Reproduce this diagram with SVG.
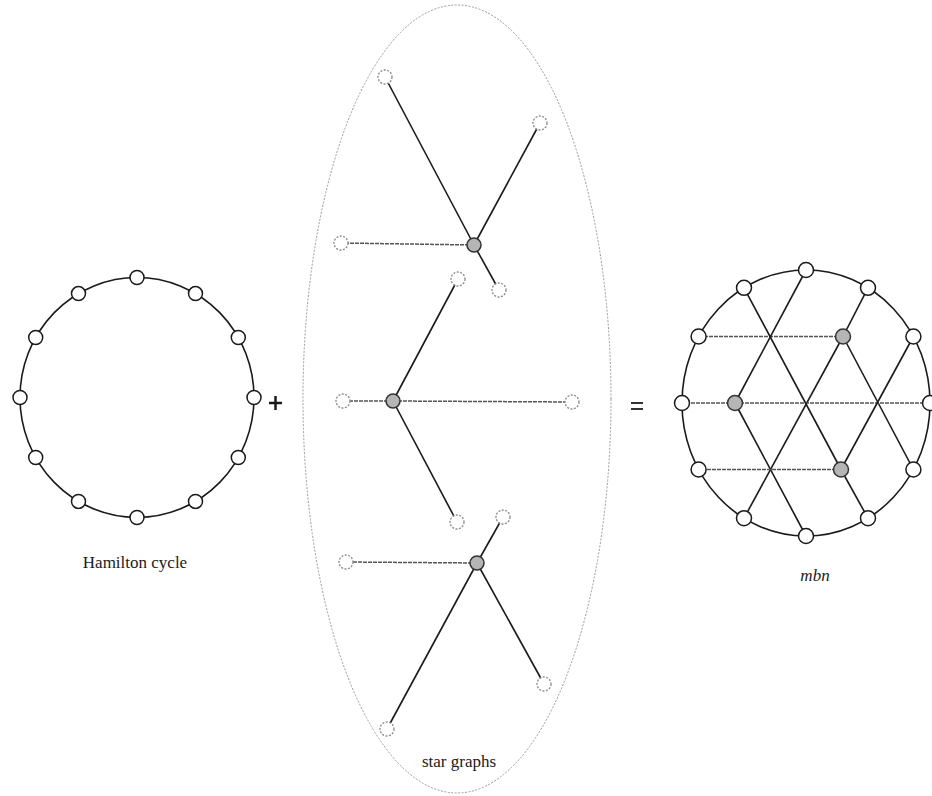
<svg xmlns="http://www.w3.org/2000/svg" width="932" height="796" viewBox="0 0 932 796">
<style>
.bg{fill:#fff}
.cyc{fill:none;stroke:#1a1a1a;stroke-width:1.6}
.e{stroke:#1a1a1a;stroke-width:1.6;fill:none}
.eh{stroke:#555;stroke-width:1.5;stroke-dasharray:4 1;fill:none}
.n{fill:#fff;stroke:#1a1a1a;stroke-width:1.5}
.g{fill:#b5b5b5;stroke:#333;stroke-width:1.5}
.l{fill:#fff;stroke:#8a8a8a;stroke-width:1.3;stroke-dasharray:2 1.5}
.ov{fill:none;stroke:#9a9a9a;stroke-width:1;stroke-dasharray:2 1.5}
.t{font-family:"Liberation Serif","Times New Roman",serif;font-size:17px;fill:#1a1a1a}
</style>
<rect class="bg" x="0" y="0" width="932" height="796"/>

<!-- Hamilton cycle -->
<g id="hamilton">
  <ellipse class="cyc" cx="137" cy="397.5" rx="117" ry="120"/>
  <g id="h-nodes">
    <circle class="n" cx="137" cy="277.5" r="7"/>
    <circle class="n" cx="195.5" cy="293.6" r="7"/>
    <circle class="n" cx="238.3" cy="337.5" r="7"/>
    <circle class="n" cx="254" cy="397.5" r="7"/>
    <circle class="n" cx="238.3" cy="457.5" r="7"/>
    <circle class="n" cx="195.5" cy="501.4" r="7"/>
    <circle class="n" cx="137" cy="517.5" r="7"/>
    <circle class="n" cx="78.5" cy="501.4" r="7"/>
    <circle class="n" cx="35.7" cy="457.5" r="7"/>
    <circle class="n" cx="20" cy="397.5" r="7"/>
    <circle class="n" cx="35.7" cy="337.5" r="7"/>
    <circle class="n" cx="78.5" cy="293.6" r="7"/>
  </g>
  <text class="t" x="135" y="568" text-anchor="middle">Hamilton cycle</text>
</g>

<g id="plus">
  <line x1="269" y1="403" x2="282" y2="403" stroke="#1a1a1a" stroke-width="2.5"/>
  <line x1="275.5" y1="396" x2="275.5" y2="410" stroke="#1a1a1a" stroke-width="2.5"/>
</g>

<!-- star graphs -->
<g id="star-graphs">
  <ellipse class="ov" cx="457" cy="399" rx="154" ry="394"/>
  <g id="connectors-stars">
    <line class="e" x1="474" y1="245" x2="385" y2="77"/>
    <line class="e" x1="474" y1="245" x2="540" y2="123"/>
    <line class="eh" x1="474" y1="245" x2="341" y2="243"/>
    <line class="e" x1="474" y1="245" x2="499" y2="290"/>
    <line class="e" x1="393" y1="401" x2="458" y2="279"/>
    <line class="eh" x1="393" y1="401" x2="343" y2="401"/>
    <line class="eh" x1="393" y1="401" x2="572" y2="402"/>
    <line class="e" x1="393" y1="401" x2="457" y2="522"/>
    <line class="e" x1="477" y1="563" x2="503" y2="517"/>
    <line class="eh" x1="477" y1="563" x2="346" y2="562"/>
    <line class="e" x1="477" y1="563" x2="544" y2="684"/>
    <line class="e" x1="477" y1="563" x2="387" y2="729"/>
  </g>
  <g id="star1">
    <circle class="l" cx="385" cy="77" r="7"/>
    <circle class="l" cx="540" cy="123" r="7"/>
    <circle class="l" cx="341" cy="243" r="7"/>
    <circle class="l" cx="499" cy="290" r="7"/>
    <circle class="g" cx="474" cy="245" r="7"/>
  </g>
  <g id="star2">
    <circle class="l" cx="458" cy="279" r="7"/>
    <circle class="l" cx="343" cy="401" r="7"/>
    <circle class="l" cx="572" cy="402" r="7"/>
    <circle class="l" cx="457" cy="522" r="7"/>
    <circle class="g" cx="393" cy="401" r="7"/>
  </g>
  <g id="star3">
    <circle class="l" cx="503" cy="517" r="7"/>
    <circle class="l" cx="346" cy="562" r="7"/>
    <circle class="l" cx="544" cy="684" r="7"/>
    <circle class="l" cx="387" cy="729" r="7"/>
    <circle class="g" cx="477" cy="563" r="7"/>
  </g>
  <text class="t" x="459" y="767" text-anchor="middle" font-size="18">star graphs</text>
</g>

<g id="equals">
  <line x1="631" y1="403" x2="643" y2="403" stroke="#333" stroke-width="2"/>
  <line x1="631" y1="409" x2="643" y2="409" stroke="#333" stroke-width="2"/>
</g>

<!-- mbn -->
<g id="mbn">
  <ellipse class="cyc" cx="806" cy="403" rx="124" ry="133"/>
  <g id="connectors-mbn">
    <line class="e" x1="843" y1="336.5" x2="868" y2="287.8"/>
    <line class="eh" x1="843" y1="336.5" x2="698.6" y2="336.5"/>
    <line class="e" x1="843" y1="336.5" x2="744" y2="518.2"/>
    <line class="e" x1="843" y1="336.5" x2="913.4" y2="469.5"/>
    <line class="e" x1="735" y1="403" x2="806" y2="270"/>
    <line class="eh" x1="735" y1="403" x2="682" y2="403"/>
    <line class="eh" x1="735" y1="403" x2="930" y2="403"/>
    <line class="e" x1="735" y1="403" x2="806" y2="536"/>
    <line class="eh" x1="841" y1="469.5" x2="698.6" y2="469.5"/>
    <line class="e" x1="841" y1="469.5" x2="744" y2="287.8"/>
    <line class="e" x1="841" y1="469.5" x2="913.4" y2="336.5"/>
    <line class="e" x1="841" y1="469.5" x2="868" y2="518.2"/>
  </g>
  <g id="mbn-nodes">
    <circle class="n" cx="806" cy="270" r="7.5"/>
    <circle class="n" cx="868" cy="287.8" r="7.5"/>
    <circle class="n" cx="913.4" cy="336.5" r="7.5"/>
    <circle class="n" cx="930" cy="403" r="7.5"/>
    <circle class="n" cx="913.4" cy="469.5" r="7.5"/>
    <circle class="n" cx="868" cy="518.2" r="7.5"/>
    <circle class="n" cx="806" cy="536" r="7.5"/>
    <circle class="n" cx="744" cy="518.2" r="7.5"/>
    <circle class="n" cx="698.6" cy="469.5" r="7.5"/>
    <circle class="n" cx="682" cy="403" r="7.5"/>
    <circle class="n" cx="698.6" cy="336.5" r="7.5"/>
    <circle class="n" cx="744" cy="287.8" r="7.5"/>
    <circle class="g" cx="843" cy="336.5" r="7.5"/>
    <circle class="g" cx="735" cy="403" r="7.5"/>
    <circle class="g" cx="841" cy="469.5" r="7.5"/>
  </g>
  <text class="t" x="815" y="581" text-anchor="middle" font-style="italic" font-size="15">mbn</text>
</g>
</svg>
